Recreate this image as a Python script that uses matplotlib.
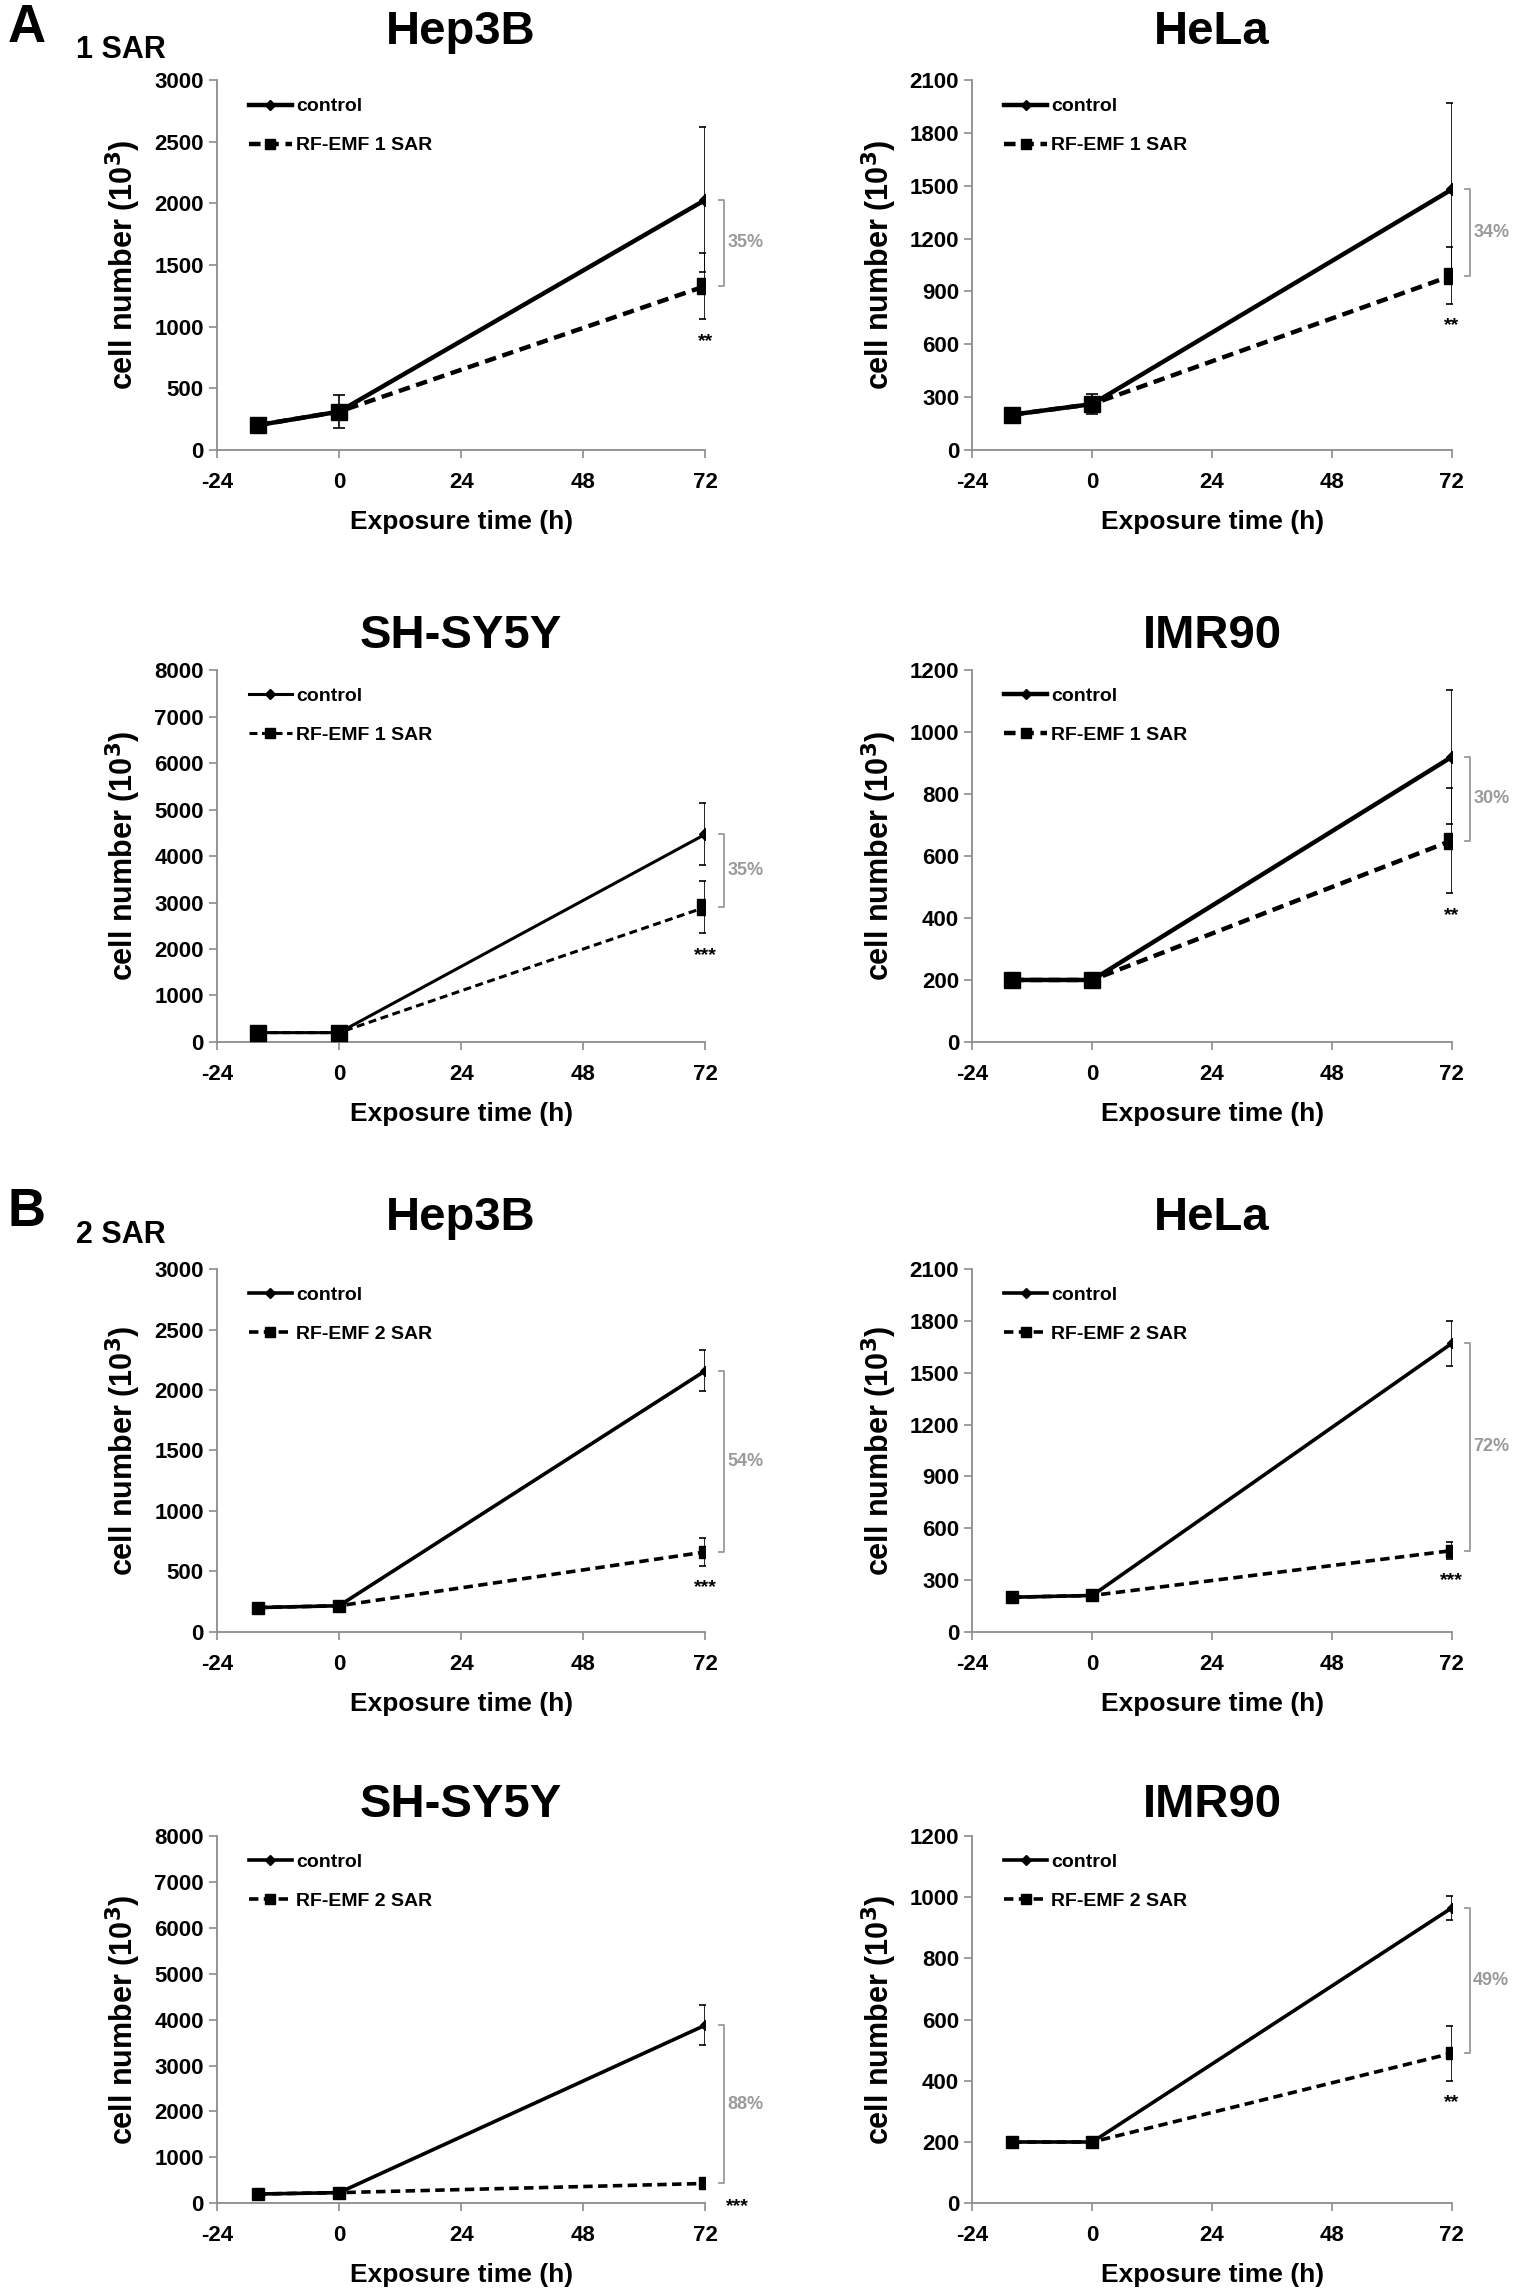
import matplotlib
matplotlib.use("Agg")
import matplotlib.pyplot as plt
from matplotlib.lines import Line2D
import numpy as np

# ---------------- data ----------------
times = [-16, 0, 72]
cells = ["Hep3B", "HeLa", "SH-SY5Y", "IMR90"]
ymax = [3000, 2100, 8000, 1200]
ystep = [500, 300, 1000, 200]

# 1 SAR (panel A)
ctrl_1 = [[200, 310, 2030], [200, 260, 1480], [200, 200, 4470], [200, 200, 920]]
ctrl_1_err = [[15, 30, 590], [15, 20, 490], [40, 40, 670], [8, 8, 215]]
rf_1 = [[200, 310, 1330], [200, 260, 990], [200, 200, 2900], [200, 200, 650]]
rf_1_err = [[15, 135, 270], [15, 55, 160], [40, 40, 560], [8, 8, 170]]
pct_1 = ["35%", "34%", "35%", "30%"]
sig_1 = ["**", "**", "***", "**"]
rf_label_1 = "RF-EMF 1 SAR"

# 2 SAR (panel B)
ctrl_2 = [[200, 215, 2160], [200, 210, 1670], [200, 230, 3880], [200, 200, 965]]
ctrl_2_err = [[15, 15, 170], [10, 10, 130], [40, 40, 440], [8, 8, 40]]
rf_2 = [[200, 215, 660], [200, 210, 470], [200, 230, 430], [200, 200, 490]]
rf_2_err = [[15, 15, 115], [10, 10, 50], [40, 40, 50], [8, 8, 90]]
pct_2 = ["54%", "72%", "88%", "49%"]
sig_2 = ["***", "***", "***", "**"]
rf_label_2 = "RF-EMF 2 SAR"

xticks = [-24, 0, 24, 48, 72]

# ---------------- style ----------------
FONT = ["Liberation Sans", "DejaVu Sans"]
plt.rcParams["font.family"] = FONT
GRAY = "#9a9a9a"
AXGRAY = "#8c8c8c"
DASH = (0, (2.6, 1.5))

fig = plt.figure(figsize=(15.17, 22.95), dpi=100)

col_left = [0.143, 0.641]
col_w = [0.322, 0.316]
rows = [(0.804, 0.161), (0.546, 0.162), (0.289, 0.158), (0.040, 0.160)]
title_pad = [26, 16, 28, 14]


def draw(ax, i, ctrl, cerr, rf, rerr, pct, sig, rflabel, lw, sq, dm, tpad):
    ax.errorbar(times, ctrl, yerr=cerr, color="black", lw=lw, marker="D",
                ms=dm, capsize=4, elinewidth=1.2, capthick=1.2, zorder=3)
    ax.errorbar(times, rf, yerr=rerr, color="black", lw=lw, marker="s",
                ms=sq, capsize=4, elinewidth=1.2, capthick=1.2,
                linestyle=DASH, zorder=4)
    ax.set_xlim(-24, 72)
    ax.set_ylim(0, ymax[i])
    ax.set_xticks(xticks)
    ax.set_xticklabels([str(t) for t in xticks])
    ax.set_yticks(np.arange(0, ymax[i] + 1, ystep[i]))
    for s in ["top", "right"]:
        ax.spines[s].set_visible(False)
    for s in ["left", "bottom"]:
        ax.spines[s].set_color(AXGRAY)
        ax.spines[s].set_linewidth(1.3)
    ax.tick_params(axis="both", colors=AXGRAY, length=6, width=1.2,
                   labelcolor="black", labelsize=16)
    ax.tick_params(axis="x", pad=10)
    for lab in ax.get_xticklabels() + ax.get_yticklabels():
        lab.set_fontweight("bold")
    ax.set_xlabel("Exposure time (h)", fontsize=19, fontweight="bold",
                  labelpad=12)
    ax.set_ylabel("cell number (10$^{\\mathbf{3}}$)", fontsize=22,
                  fontweight="bold", labelpad=8)
    ax.set_title(cells[i], fontsize=34, fontweight="bold", pad=tpad)
    handles = [
        Line2D([], [], color="black", lw=lw, marker="D", ms=5),
        Line2D([], [], color="black", lw=lw, marker="s", ms=7, linestyle=DASH),
    ]
    leg = ax.legend(handles, ["control", rflabel], loc="upper left",
                    bbox_to_anchor=(0.03, 1.0), frameon=False,
                    handlelength=2.2, handletextpad=0.2, labelspacing=1.1,
                    fontsize=14)
    for t in leg.get_texts():
        t.set_fontweight("bold")
    # bracket
    top = ctrl[-1]
    bot = rf[-1]
    bx = 75.6
    ax.plot([74.6, bx, bx, 74.6], [top, top, bot, bot], color=GRAY, lw=1.3,
            clip_on=False, zorder=2)
    ax.text(bx + 0.7, (top + bot) / 2, pct, color=GRAY, fontsize=13,
            fontweight="bold", va="center", ha="left", clip_on=False)
    # significance
    ys = bot - rerr[-1] - 0.06 * ymax[i]
    if ys < 0.03 * ymax[i]:
        ax.text(76.0, -0.01 * ymax[i], sig, fontsize=14, fontweight="bold",
                ha="left", va="center", clip_on=False)
    else:
        ax.text(72, ys, sig, fontsize=14, fontweight="bold", ha="center",
                va="center", clip_on=False)


lw_1 = [3.2, 3.2, 2.2, 3.2]
lw_2 = [2.6, 2.6, 2.6, 2.6]
sq_1 = [12, 12, 11, 12]
sq_2 = [9, 9, 9, 9]
dm_1 = [6, 6, 6, 6]
dm_2 = [5, 5, 5, 5]

for i in range(4):
    r = i // 2
    c = i % 2
    b, h = rows[r]
    ax = fig.add_axes([col_left[c], b, col_w[c], h])
    draw(ax, i, ctrl_1[i], ctrl_1_err[i], rf_1[i], rf_1_err[i], pct_1[i],
         sig_1[i], rf_label_1, lw_1[i], sq_1[i], dm_1[i], title_pad[r])

for i in range(4):
    r = 2 + i // 2
    c = i % 2
    b, h = rows[r]
    ax = fig.add_axes([col_left[c], b, col_w[c], h])
    draw(ax, i, ctrl_2[i], ctrl_2_err[i], rf_2[i], rf_2_err[i], pct_2[i],
         sig_2[i], rf_label_2, lw_2[i], sq_2[i], dm_2[i], title_pad[r])

fig.text(0.005, 0.988, "A", fontsize=38, fontweight="bold",
         va="center", ha="left")
fig.text(0.050, 0.978, "1 SAR", fontsize=22, fontweight="bold",
         va="center", ha="left")
fig.text(0.005, 0.472, "B", fontsize=38, fontweight="bold",
         va="center", ha="left")
fig.text(0.050, 0.462, "2 SAR", fontsize=22, fontweight="bold",
         va="center", ha="left")

fig.savefig("out.png", dpi=100, facecolor="white")
